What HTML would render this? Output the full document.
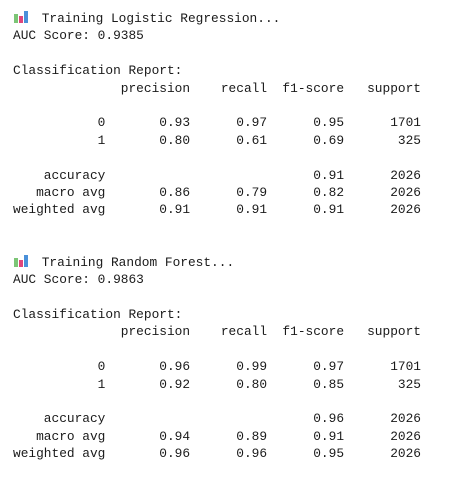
<!DOCTYPE html>
<html><head><meta charset="utf-8"><style>
html,body{margin:0;padding:0;background:#fff;width:456px;height:480px;overflow:hidden}
pre{margin:0;position:absolute;left:13px;top:10px;font-family:"Liberation Mono",monospace;font-size:12.83px;line-height:17.4px;color:#1a1a1a}
.ic{display:inline-block;width:16px;height:12px;position:relative;vertical-align:-1px;margin-right:5px}
.ic i{position:absolute;bottom:0;width:4px}
</style></head><body>
<pre><span class="ic"><i style="left:1px;height:9px;background:#7cc576"></i><i style="left:6px;height:7px;background:#e0457b"></i><i style="left:11px;height:12px;background:#4a90d9"></i></span> Training Logistic Regression...
AUC Score: 0.9385

Classification Report:
              precision    recall  f1-score   support

           0       0.93      0.97      0.95      1701
           1       0.80      0.61      0.69       325

    accuracy                           0.91      2026
   macro avg       0.86      0.79      0.82      2026
weighted avg       0.91      0.91      0.91      2026


<span class="ic"><i style="left:1px;height:9px;background:#7cc576"></i><i style="left:6px;height:7px;background:#e0457b"></i><i style="left:11px;height:12px;background:#4a90d9"></i></span> Training Random Forest...
AUC Score: 0.9863

Classification Report:
              precision    recall  f1-score   support

           0       0.96      0.99      0.97      1701
           1       0.92      0.80      0.85       325

    accuracy                           0.96      2026
   macro avg       0.94      0.89      0.91      2026
weighted avg       0.96      0.96      0.95      2026
</pre>
</body></html>
